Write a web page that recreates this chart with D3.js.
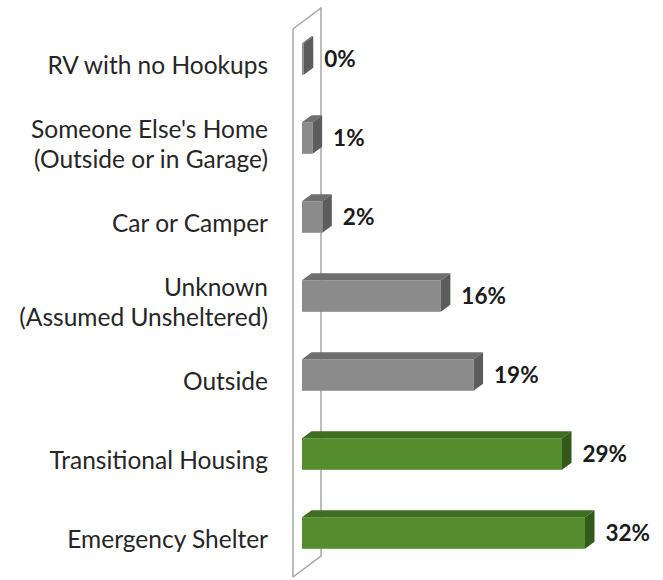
<!DOCTYPE html>
<html>
<head>
<meta charset="utf-8">
<script src="https://cdn.jsdelivr.net/npm/d3@7/dist/d3.min.js"></script>
<style>
  html, body { margin: 0; padding: 0; background: #ffffff; }
  svg { display: block; }
</style>
</head>
<body>
<svg id="chart" width="663" height="580"></svg>
<script>
// ---- data (top to bottom) ----
const categories = [
  "RV with no Hookups",
  "Someone Else's Home\n(Outside or in Garage)",
  "Car or Camper",
  "Unknown\n(Assumed Unsheltered)",
  "Outside",
  "Transitional Housing",
  "Emergency Shelter"
];
const values = [0.2, 1.2, 2.3, 15.7, 19.4, 29.4, 32.0];   // percent
const groups = ["Unsheltered", "Unsheltered", "Unsheltered", "Unsheltered", "Unsheltered", "Sheltered", "Sheltered"];

// ---- layout ----
const svg = d3.select("#chart");

const x = d3.scaleLinear().domain([0, 32]).range([302, 585]);
const y = d3.scaleBand().domain(categories).range([43.2, 548.8]).paddingInner(0.6).paddingOuter(0);

const depth = { dx: 9.5, dy: -7 };
const wall = { front: 293, dx: 28, dy: -21, top: 29, bottom: 577 };

const faceColors = d3.scaleOrdinal()
  .domain(["Unsheltered", "Sheltered"])
  .range([
    { front: "#8b8b8b", top: "#6e6e6e", side: "#5c5c5c" },
    { front: "#548c2e", top: "#3f6e21", side: "#33591b" }
  ]);

// ---- wall (back part) ----
const wallG = svg.append("g").attr("fill", "none").attr("stroke", "#a6a6a6").attr("stroke-width", 1.5);
wallG.append("path").attr("d", d3.line()([
  [wall.front, wall.top],
  [wall.front + wall.dx, wall.top + wall.dy],
  [wall.front + wall.dx, wall.bottom + wall.dy],
  [wall.front, wall.bottom]
]));

// ---- bars ----
const rows = categories.map((c, i) => ({ cat: c, v: values[i], g: groups[i] }));
const bars = svg.append("g").selectAll("g.bar").data(rows).join("g").attr("class", "bar");

bars.each(function(d) {
  const g = d3.select(this);
  const x0 = x(0), x1 = x(d.v), y0 = y(d.cat), h = y.bandwidth();
  const col = faceColors(d.g);
  g.append("path")
    .attr("d", d3.line()([[x0, y0], [x0 + depth.dx, y0 + depth.dy], [x1 + depth.dx, y0 + depth.dy], [x1, y0]]) + "Z")
    .attr("fill", col.top);
  g.append("rect")
    .attr("x", x0).attr("y", y0).attr("width", x1 - x0).attr("height", h)
    .attr("fill", col.front);
  g.append("path")
    .attr("d", d3.line()([[x1, y0], [x1 + depth.dx, y0 + depth.dy], [x1 + depth.dx, y0 + h + depth.dy], [x1, y0 + h]]) + "Z")
    .attr("fill", col.side);
});

// ---- wall front edge ----
svg.append("line")
  .attr("x1", wall.front).attr("x2", wall.front)
  .attr("y1", wall.top).attr("y2", wall.bottom)
  .attr("stroke", "#a6a6a6").attr("stroke-width", 1.5);

// ---- category axis ----
const axis = svg.append("g")
  .attr("transform", `translate(${wall.front},7.5)`)
  .call(d3.axisLeft(y).tickSize(0).tickPadding(25));
axis.select(".domain").remove();
axis.selectAll("text")
  .attr("font-family", "Lato, Carlito, Calibri, sans-serif")
  .attr("font-size", 24.5)
  .attr("fill", "#262626")
  .each(function(d) {
    const lines = d.split("\n");
    const t = d3.select(this);
    t.text(null);
    const lh = 30;
    lines.forEach((ln, i) => {
      t.append("tspan")
        .attr("x", -25)
        .attr("y", (i - (lines.length - 1) / 2) * lh)
        .attr("dy", "0.32em")
        .text(ln);
    });
  });

// ---- value labels ----
svg.append("g").selectAll("text").data(rows).join("text")
  .attr("x", d => x(d.v) + depth.dx + 11)
  .attr("y", d => y(d.cat) + y.bandwidth() / 2)
  .attr("dy", "0.35em")
  .attr("font-family", "Lato, Carlito, Calibri, sans-serif")
  .attr("font-weight", "bold")
  .attr("font-size", 22.5)
  .attr("fill", "#1a1a1a")
  .text(d => d3.format(".0f")(d.v) + "%");
</script>
</body>
</html>
